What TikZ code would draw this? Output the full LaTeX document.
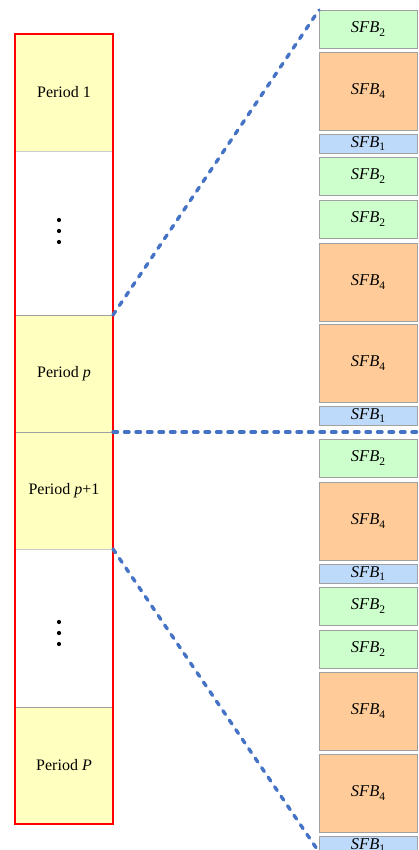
\documentclass[tikz,border=0pt]{standalone}
\usepackage{fontspec}
\setmainfont{Liberation Serif}
\definecolor{periodfill}{RGB}{255,255,192}
\definecolor{sfbgreen}{RGB}{204,255,204}
\definecolor{sfborange}{RGB}{255,204,153}
\definecolor{sfbblue}{RGB}{190,218,250}
\definecolor{linkblue}{RGB}{68,114,196}
\definecolor{cellgray}{RGB}{160,160,160}
\tikzset{
  cell/.style={draw=cellgray, line width=0.8pt, minimum width=98pt, inner sep=0pt,
    outer sep=0pt, font=\fontsize{16}{16}\selectfont, anchor=north},
  periodcell/.style={cell, fill=periodfill},
  gapcell/.style={cell, draw=black!20, fill=white},
  sfbbox/.style={draw=cellgray, line width=0.8pt, minimum width=98pt, inner sep=0pt,
    outer sep=0pt, font=\fontsize{16.5}{16.5}\selectfont\itshape, anchor=north},
  sfbone/.style={sfbbox, fill=sfbblue, minimum height=19pt},
  sfbtwo/.style={sfbbox, fill=sfbgreen, minimum height=38.5pt},
  sfbfour/.style={sfbbox, fill=sfborange, minimum height=78pt},
  zoomlink/.style={draw=linkblue, line width=3.4pt, line cap=round,
    dash pattern=on 4.5pt off 7pt},
  dotmark/.style={fill=black, circle, inner sep=0pt, minimum size=4.2pt}
}
\newcommand{\sfbtext}[1]{SFB\raisebox{-3.5pt}{\fontsize{11.5}{11.5}\selectfont\upshape #1}}
\begin{document}
\begin{tikzpicture}[x=1pt,y=-1pt]
\useasboundingbox (0,0) rectangle (419,850);
\clip (0,0) rectangle (419,850);

% period column
\node[periodcell, minimum height=117pt] (p1) at (64,34) {Period 1};
\node[gapcell, minimum height=164pt] (g1) at (64,151) {};
\node[periodcell, minimum height=117pt] (pp) at (64,315) {Period \textit{p}};
\node[periodcell, minimum height=117pt] (pq) at (64,432) {Period \textit{p}+1};
\node[gapcell, minimum height=158pt] (g2) at (64,549) {};
\node[periodcell, minimum height=117pt] (pP) at (64,707) {Period \textit{P}};
\draw[red, line width=2pt] (p1.north west) rectangle (pP.south east);

% vertical ellipses
\node[dotmark] (d1) at (59,220) {};
\node[dotmark] (d2) at (59,231) {};
\node[dotmark] (d3) at (59,242) {};
\node[dotmark] (d4) at (59,622) {};
\node[dotmark] (d5) at (59,633) {};
\node[dotmark] (d6) at (59,644) {};

% sub-frame blocks
\node[sfbtwo]  (s1)  at (368,10)  {\sfbtext{2}};
\node[sfbfour] (s2)  at (368,52)  {\sfbtext{4}};
\node[sfbone]  (s3)  at (368,134) {\sfbtext{1}};
\node[sfbtwo]  (s4)  at (368,157) {\sfbtext{2}};
\node[sfbtwo]  (s5)  at (368,200) {\sfbtext{2}};
\node[sfbfour] (s6)  at (368,243) {\sfbtext{4}};
\node[sfbfour] (s7)  at (368,324) {\sfbtext{4}};
\node[sfbone]  (s8)  at (368,406) {\sfbtext{1}};
\node[sfbtwo]  (s9)  at (368,439) {\sfbtext{2}};
\node[sfbfour] (s10) at (368,482) {\sfbtext{4}};
\node[sfbone]  (s11) at (368,564) {\sfbtext{1}};
\node[sfbtwo]  (s12) at (368,587) {\sfbtext{2}};
\node[sfbtwo]  (s13) at (368,630) {\sfbtext{2}};
\node[sfbfour] (s14) at (368,672) {\sfbtext{4}};
\node[sfbfour] (s15) at (368,754) {\sfbtext{4}};
\node[sfbone]  (s16) at (368,836) {\sfbtext{1}};

% zoom links
\coordinate (hend) at (421,432);
\coordinate (bend) at (319,852);
\draw[zoomlink] (pp.north east) -- (s1.north west);
\draw[zoomlink] (pp.south east) -- (hend);
\draw[zoomlink] (pq.south east) -- (bend);
\end{tikzpicture}
\end{document}
